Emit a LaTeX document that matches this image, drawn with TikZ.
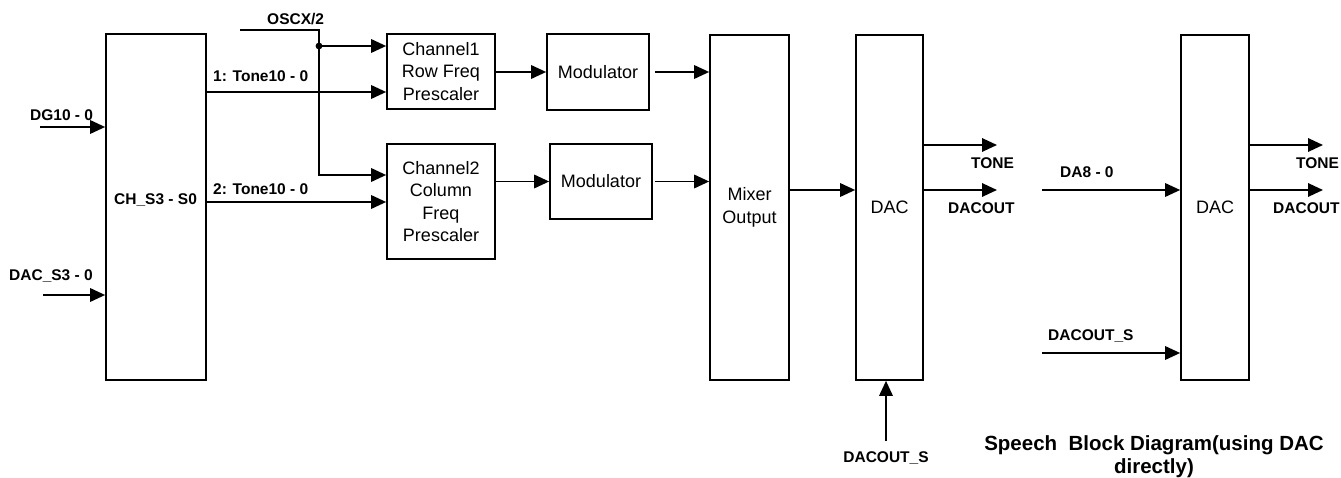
\documentclass[tikz,border=0pt]{standalone}
\usepackage{fontspec}
\setmainfont{Liberation Sans}
\usetikzlibrary{arrows.meta}

\begin{document}
\begin{tikzpicture}[x=1pt,y=-1pt,
  blk/.style={draw, line width=1.7pt, inner sep=0pt, align=center,
              font=\fontsize{18}{22.5}\selectfont},
  sig/.style={line width=1.7pt},
  arr/.style={sig, -{Triangle[length=15pt,width=13.5pt]}},
  lbl/.style={inner sep=0pt, font=\fontsize{15.5}{18}\selectfont\bfseries},
]
\useasboundingbox (0,0) rectangle (1341,478);

% ---- blocks ----
\node[blk, minimum width=100pt, minimum height=346pt] (ch) at (156,207) {};
\node[lbl, anchor=base west] (chlbl) at (114,205) {CH\_S3 - S0};
\node[blk, minimum width=108pt, minimum height=75pt] (c1) at (441,71.5) {Channel1\\Row Freq\\Prescaler};
\node[blk, minimum width=108pt, minimum height=115pt] (c2) at (441,201.5) {Channel2\\Column\\Freq\\Prescaler};
\node[blk, minimum width=102pt, minimum height=76pt] (m1) at (598,72) {Modulator};
\node[blk, minimum width=102pt, minimum height=75pt] (m2) at (601,181.5) {Modulator};
\node[blk, minimum width=79pt, minimum height=345pt] (mix) at (749.5,207.5) {Mixer\\Output};
\node[blk, minimum width=67pt, minimum height=345pt] (dac1) at (889.5,207.5) {DAC};
\node[blk, minimum width=68pt, minimum height=345pt] (dac2) at (1215,207.5) {DAC};

% ---- free line ends ----
\coordinate (dgin) at (40,127);
\coordinate (dsin) at (43,295);
\coordinate (osc) at (240,30);
\coordinate (j) at (319,46);
\coordinate (t1) at (997,145);
\coordinate (o1) at (997,190);
\coordinate (ds1) at (886,441);
\coordinate (da8) at (1042,190);
\coordinate (ds2) at (1042,353);
\coordinate (t2) at (1323,145);
\coordinate (o2) at (1323,190);

% ---- inputs of the channel selector ----
\draw[arr] (dgin) -- (dgin -| ch.west);
\draw[arr] (dsin) -- (dsin -| ch.west);

% ---- clock distribution ----
\draw[sig] (osc) -| (j);
\draw[arr] (j) -- (j -| c1.west);
\draw[arr] (j) |- (c2.west |- 0,175);
\fill (j) circle (3.4pt);

% ---- tone words ----
\draw[arr] (ch.east |- 0,92) -- (c1.west |- 0,92);
\draw[arr] (ch.east |- 0,202) -- (c2.west |- 0,202);

% ---- prescalers -> modulators -> mixer ----
\draw[arr] (c1.east |- m1.west) -- (m1.west);
\draw[arr] (c2.east |- m2.west) -- (m2.west);
\draw[arr] ([xshift=5pt]m1.east) -- (mix.west |- m1.east);
\draw[arr] ([xshift=2pt]m2.east) -- (mix.west |- m2.east);
\draw[arr] (mix.east |- 0,190) -- (dac1.west |- 0,190);

% ---- DAC outputs ----
\draw[arr] (dac1.east |- t1) -- (t1);
\draw[arr] (dac1.east |- o1) -- (o1);
\draw[arr] (ds1) -- (ds1 |- dac1.south);

% ---- speech path ----
\draw[arr] (da8) -- (da8 -| dac2.west);
\draw[arr] (ds2) -- (ds2 -| dac2.west);
\draw[arr] (dac2.east |- t2) -- (t2);
\draw[arr] (dac2.east |- o2) -- (o2);

% ---- signal labels ----
\node[lbl, anchor=base west] (loscx) at (267,25) {OSCX/2};
\node[lbl, anchor=base west] (lt1) at (213,82) {1: Tone10 - 0};
\node[lbl, anchor=base west] (lt2) at (213,195) {2: Tone10 - 0};
\node[lbl, anchor=base west] (ldg) at (30,121) {DG10 - 0};
\node[lbl, anchor=base west] (lds) at (9,281) {DAC\_S3 - 0};
\node[lbl, anchor=base west] (ltone1) at (971,169) {TONE};
\node[lbl, anchor=base west] (lout1) at (948,214) {DACOUT};
\node[lbl, anchor=base] (lds1) at (886,462) {DACOUT\_S};
\node[lbl, anchor=base west] (lda8) at (1060,178) {DA8 - 0};
\node[lbl, anchor=base west] (lds2) at (1048,341) {DACOUT\_S};
\node[lbl, anchor=base west] (ltone2) at (1296,169) {TONE};
\node[lbl, anchor=base west] (lout2) at (1273,214) {DACOUT};

% ---- caption ----
\node[inner sep=0pt, align=center, anchor=base,
      font=\fontsize{20.5}{23}\selectfont\bfseries] (title) at (1154,473)
  {Speech\ \ Block Diagram(using DAC\\directly)};
\end{tikzpicture}
\end{document}
